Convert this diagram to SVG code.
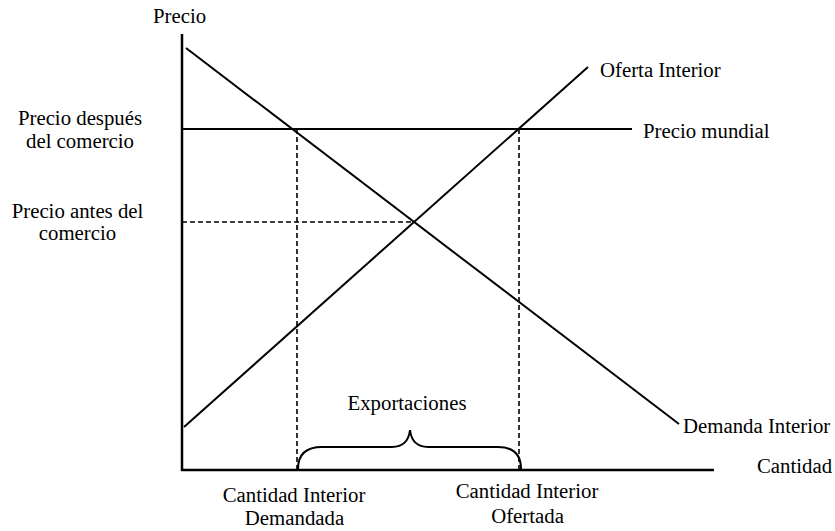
<svg xmlns="http://www.w3.org/2000/svg" width="835" height="531" viewBox="0 0 835 531">
<style>
text{font-family:"Liberation Serif","Times New Roman",serif;font-size:20.8px;fill:#000}
.c{text-anchor:middle}
.ln{stroke:#000;stroke-width:2;fill:none}
.ax{stroke:#000;stroke-width:2.5;fill:none}
.ds{stroke:#000;stroke-width:1.6;stroke-dasharray:5,3;fill:none}
</style>
<rect width="835" height="531" fill="#fff"/>
<g id="connectors">
<line class="ds" x1="182" y1="222" x2="415" y2="222"/>
<line class="ds" x1="297" y1="129" x2="297" y2="470"/>
<line class="ds" x1="519" y1="129" x2="519" y2="470"/>
<line class="ln" x1="182" y1="129" x2="632" y2="129"/>
<line class="ln" x1="186" y1="48" x2="679" y2="424"/>
<line class="ln" x1="184" y1="427" x2="588" y2="67"/>
<path class="ln" d="M298,469 Q298,447 322,447 L392,447 Q408,447 410,430 Q412,447 428,447 L498,447 Q521,447 521,469"/>
<line class="ax" x1="182" y1="34" x2="182" y2="471"/>
<line class="ax" x1="181" y1="470" x2="714" y2="470"/>
</g>
<g id="axis-labels">
<text x="153" y="23">Precio</text>
<text x="757" y="473">Cantidad</text>
</g>
<g id="price-labels">
<text class="c" x="80" y="125">Precio después</text>
<text class="c" x="80" y="148">del comercio</text>
<text class="c" x="77.5" y="218">Precio antes del</text>
<text class="c" x="77.5" y="240">comercio</text>
</g>
<g id="curve-labels">
<text x="600" y="77">Oferta Interior</text>
<text x="643" y="138">Precio mundial</text>
<text x="683" y="433">Demanda Interior</text>
</g>
<g id="exports">
<text class="c" x="407" y="410">Exportaciones</text>
</g>
<g id="quantity-labels">
<text class="c" x="294" y="502">Cantidad Interior</text>
<text class="c" x="294.5" y="525">Demandada</text>
<text class="c" x="527" y="498">Cantidad Interior</text>
<text class="c" x="527.5" y="523">Ofertada</text>
</g>
</svg>
